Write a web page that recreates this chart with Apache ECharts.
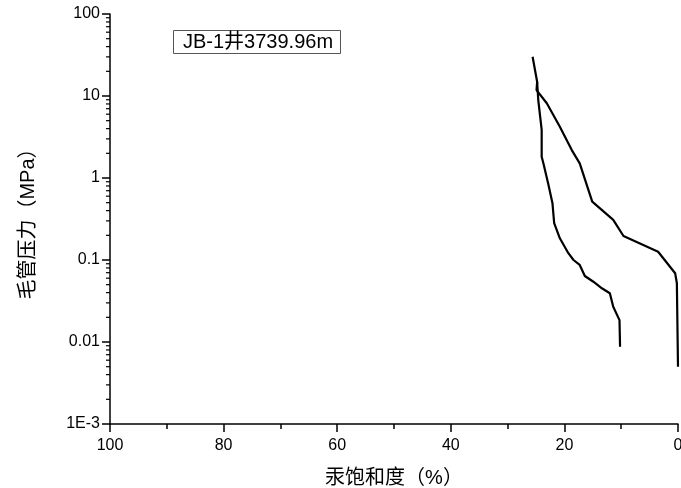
<!DOCTYPE html>
<html>
<head>
<meta charset="utf-8">
<script src="https://cdn.jsdelivr.net/npm/echarts@6/dist/echarts.min.js"></script>
<style>html,body{margin:0;padding:0;background:#fff;overflow:hidden;}#c{width:681px;height:488px;}</style>
</head>
<body>
<div id="c"></div>
<script>
// Injection curve: [mercury saturation %, capillary pressure MPa]
var injSat = [0, 0.2, 0.5, 3.5, 9.6, 11.4, 15.1, 17.3, 18.7, 20.8, 23.1, 24.9, 24.8, 25.6];
var injP   = [0.005, 0.052, 0.069, 0.126, 0.196, 0.308, 0.514, 1.51, 2.19, 4.22, 8.15, 11.8, 14.9, 30.1];
// Withdrawal curve
var wdSat = [24.8, 24.6, 24.0, 24.0, 23.7, 22.8, 22.1, 21.8, 20.8, 19.3, 18.4, 17.3, 16.4, 14.9, 13.4, 12.0, 11.4, 10.3, 10.2];
var wdP   = [14.9, 8.93, 3.85, 1.82, 1.51, 0.822, 0.491, 0.281, 0.184, 0.121, 0.1, 0.087, 0.0638, 0.0543, 0.0452, 0.0393, 0.0269, 0.0185, 0.00877];
// Axis tick labels
var yTickValues = [0.001, 0.01, 0.1, 1, 10, 100];
var yTickLabels = ['1E-3', '0.01', '0.1', '1', '10', '100'];
var xTickLabels = ['0', '20', '40', '60', '80', '100'];
// Log minor ticks (multipliers within each decade)
var minorMult = [2, 3, 4, 5, 6, 7, 8, 9];
var decades = [0.001, 0.01, 0.1, 1, 10];

function pairs(xs, ys) { return xs.map(function (x, i) { return [x, ys[i]]; }); }
var minorTickVals = [];
decades.forEach(function (d) { minorMult.forEach(function (m) { minorTickVals.push([100, +(d * m).toPrecision(3)]); }); });

var chart = echarts.init(document.getElementById('c'), null, { renderer: 'canvas' });
var font = 'Liberation Sans, Arial, "Noto Sans CJK SC", sans-serif';
chart.setOption({
  animation: false,
  backgroundColor: '#ffffff',
  title: {
    text: 'JB-1井3739.96m',
    left: 173, top: 30,
    padding: [2, 8, 2, 10],
    borderColor: '#555', borderWidth: 1,
    textStyle: { fontFamily: font, fontSize: 20, fontWeight: 'normal', color: '#000' }
  },
  grid: { left: 110, right: 3, top: 14, bottom: 64, containLabel: false, outerBoundsMode: 'none' },
  xAxis: {
    type: 'value', inverse: true, min: 0, max: 100, interval: 20,
    name: '汞饱和度（%）', nameLocation: 'middle', nameGap: 44,
    nameTextStyle: { fontFamily: font, fontSize: 20, color: '#000' },
    axisLine: { onZero: false, lineStyle: { color: '#000', width: 1.5 } },
    axisTick: { inside: false, length: 8, lineStyle: { color: '#000', width: 1.5 } },
    minorTick: { show: true, splitNumber: 2, length: 5, lineStyle: { color: '#000', width: 1.5 } },
    axisLabel: { fontFamily: font, fontSize: 16, color: '#000', margin: 14,
      formatter: function (v) { var i = xTickLabels.indexOf(String(v)); return i >= 0 ? xTickLabels[i] : ''; } },
    splitLine: { show: false }
  },
  yAxis: {
    type: 'log', logBase: 10, min: 0.001, max: 100, position: 'left',
    name: '毛管压力（MPa）', nameLocation: 'middle', nameGap: 72, nameRotate: 90,
    nameTextStyle: { fontFamily: font, fontSize: 20, color: '#000' },
    axisLine: { show: true, onZero: false, lineStyle: { color: '#000', width: 1.5 } },
    axisTick: { show: true, inside: false, length: 8, lineStyle: { color: '#000', width: 1.5 } },
    axisLabel: { fontFamily: font, fontSize: 16, color: '#000', margin: 10,
      formatter: function (v) {
        for (var i = 0; i < yTickValues.length; i++) { if (Math.abs(Math.log10(v) - Math.log10(yTickValues[i])) < 1e-6) return yTickLabels[i]; }
        return '';
      } },
    splitLine: { show: false }
  },
  series: [
    {
      name: 'injection', type: 'line', data: pairs(injSat, injP), showSymbol: false, symbol: 'none',
      lineStyle: { color: '#000', width: 2.2 }, smooth: false, z: 3
    },
    {
      name: 'withdrawal', type: 'line', data: pairs(wdSat, wdP), showSymbol: false, symbol: 'none',
      lineStyle: { color: '#000', width: 2.2 }, smooth: false, z: 3
    },
    {
      name: 'minorTicks', type: 'custom', data: minorTickVals, clip: false, silent: true,
      renderItem: function (params, api) {
        var p = api.coord([api.value(0), api.value(1)]);
        return { type: 'line', shape: { x1: p[0] - 4, y1: p[1], x2: p[0], y2: p[1] },
          style: { stroke: '#000', lineWidth: 1.2 } };
      }
    }
  ]
});
</script>
</body>
</html>
